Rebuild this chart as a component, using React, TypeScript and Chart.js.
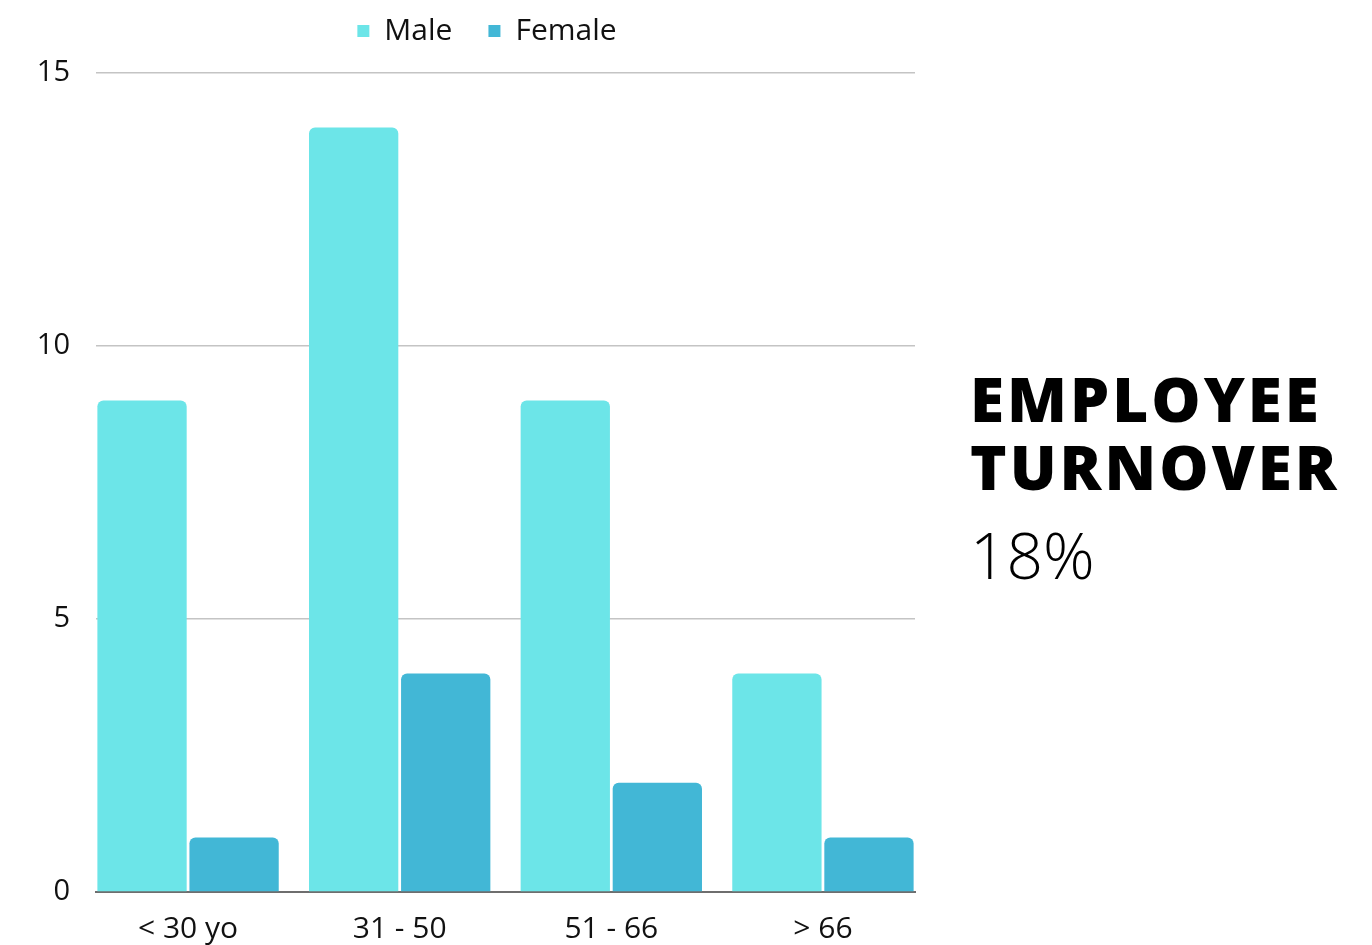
import React, { useEffect, useRef } from "react";
import { Chart, registerables } from "chart.js";

Chart.register(...registerables);

// Age bands along the x axis
const categories = ["< 30 yo", "31 - 50", "51 - 66", "> 66"];
// Number of employees who left, by gender
const maleValues = [9, 14, 9, 4];
const femaleValues = [1, 4, 2, 1];
// Value axis ticks
const yTicks = [0, 5, 10, 15];

const FONT = "'Open Sans', 'Noto Sans', sans-serif";

// Gives the legend a fixed height and centres it over the whole canvas
const legendPlacement = {
  id: "legendPlacement",
  beforeInit(chart: any) {
    const legend = chart.legend;
    if (!legend) return;
    const fit = legend.fit;
    legend.fit = function () {
      fit.call(this);
      this.height = 93;
    };
  },
  afterLayout(chart: any) {
    const legend = chart.legend;
    if (!legend) return;
    const shift = (chart.width - (legend.left + legend.right)) / 2;
    legend.left += shift;
    legend.right += shift;
  },
};

export default function App() {
  const canvasRef = useRef<HTMLCanvasElement | null>(null);

  useEffect(() => {
    const canvas = canvasRef.current;
    if (!canvas) return;
    const chart = new Chart(canvas, {
      type: "bar",
      data: {
        datasets: [
          {
            label: "Male",
            data: maleValues.map((v, i) => ({ x: i, y: v })),
            backgroundColor: "#6ce5e8",
            borderRadius: 6,
            borderSkipped: "start",
          },
          {
            label: "Female",
            data: femaleValues.map((v, i) => ({ x: i, y: v })),
            backgroundColor: "#42b7d6",
            borderRadius: 6,
            borderSkipped: "start",
          },
        ],
      },
      plugins: [legendPlacement],
      options: {
        animation: false,
        responsive: true,
        maintainAspectRatio: false,
        layout: { padding: { left: 0, right: 51, top: -28, bottom: 0 } },
        datasets: {
          bar: { categoryPercentage: 0.87, barPercentage: 0.97 },
        },
        plugins: {
          legend: {
            position: "top",
            labels: {
              boxWidth: 12,
              boxHeight: 12,
              padding: 36,
              color: "#111",
              font: { family: FONT, size: 30 },
            },
          },
          tooltip: { enabled: false },
        },
        scales: {
          x: {
            type: "linear",
            offset: false,
            min: -0.435,
            max: categories.length - 1 + 0.435,
            grid: { display: false, drawTicks: false },
            border: { display: true, color: "#6e6e6e", width: 2 },
            afterFit: (scale: any) => {
              scale.height = 53;
            },
            ticks: {
              stepSize: 1,
              includeBounds: false,
              autoSkip: false,
              maxRotation: 0,
              padding: 19,
              color: "#111",
              font: { family: FONT, size: 30 },
              callback: (v: any) => {
                const idx = Math.round(Number(v));
                return Math.abs(Number(v) - idx) < 1e-6 && categories[idx] !== undefined
                  ? categories[idx]
                  : "";
              },
            },
          },
          y: {
            min: yTicks[0],
            max: yTicks[yTicks.length - 1],
            grid: { color: "#c4c4c4", lineWidth: 1.5, drawTicks: false },
            border: { display: false },
            afterBuildTicks: (scale: any) => {
              scale.ticks = yTicks.map((value) => ({ value }));
            },
            afterFit: (scale: any) => {
              scale.width = 88;
            },
            ticks: {
              padding: 26,
              color: "#111",
              font: { family: FONT, size: 29 },
            },
          },
        },
      },
    });
    return () => chart.destroy();
  }, []);

  return (
    <div style={{ position: "relative", width: 1356, height: 937 }}>
      <div style={{ position: "absolute", left: 0, top: 0, width: 958, height: 937 }}>
        <canvas ref={canvasRef} />
      </div>
      <div
        style={{
          position: "absolute",
          left: 962,
          top: 356,
          fontFamily: FONT,
          color: "#000",
        }}
      >
        <div
          style={{
            fontSize: 62,
            fontWeight: 800,
            letterSpacing: 3,
            lineHeight: "68px",
          }}
        >
          EMPLOYEE
          <br />
          TURNOVER
        </div>
        <div style={{ fontSize: 64, fontWeight: 300, lineHeight: "110px" }}>18%</div>
      </div>
    </div>
  );
}
